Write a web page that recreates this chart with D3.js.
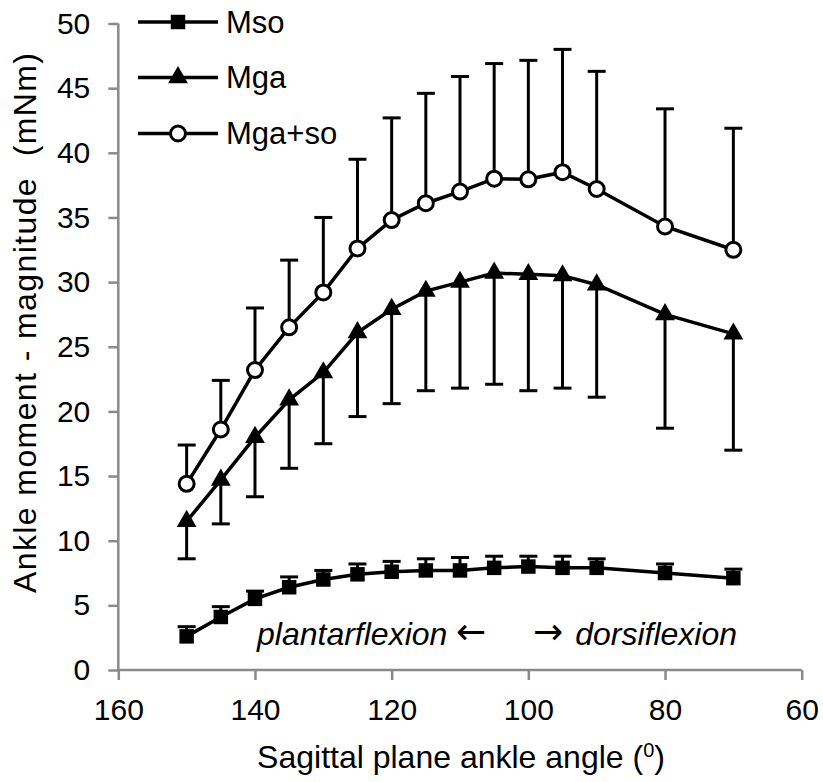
<!DOCTYPE html>
<html>
<head>
<meta charset="utf-8">
<script src="https://cdn.jsdelivr.net/npm/d3@7"></script>
<style>
  html, body { margin: 0; padding: 0; background: #fff; }
  text { font-family: "Liberation Sans", Arial, sans-serif; }
</style>
</head>
<body>
<svg id="chart" width="823" height="782"></svg>
<script>
// ---- data ----
const angles = [150, 145, 140, 135, 130, 125, 120, 115, 110, 105, 100, 95, 90, 80, 70];
const msoMean = [2.6, 4.1, 5.5, 6.4, 7.0, 7.4, 7.6, 7.7, 7.7, 7.9, 8.0, 7.9, 7.9, 7.5, 7.1];
const msoUpper = [3.35, 4.9, 6.1, 7.2, 7.7, 8.2, 8.4, 8.6, 8.7, 8.8, 8.8, 8.8, 8.6, 8.2, 7.8];
const mgaMean = [11.5, 14.7, 18.0, 20.9, 23.0, 26.1, 27.9, 29.3, 30.0, 30.7, 30.6, 30.5, 29.8, 27.5, 26.0];
const mgaLower = [8.6, 11.3, 13.4, 15.6, 17.5, 19.6, 20.6, 21.6, 21.8, 22.1, 21.6, 21.8, 21.1, 18.7, 17.0];
const sumMean = [14.4, 18.6, 23.2, 26.5, 29.2, 32.6, 34.8, 36.1, 37.0, 38.0, 37.95, 38.5, 37.2, 34.3, 32.5];
const sumUpper = [17.4, 22.4, 28.0, 31.7, 35.0, 39.5, 42.7, 44.6, 45.9, 46.9, 47.15, 48.0, 46.3, 43.4, 41.9];
const xTicks = [160, 140, 120, 100, 80, 60];
const yTicks = [0, 5, 10, 15, 20, 25, 30, 35, 40, 45, 50];
const seriesNames = ["Mso", "Mga", "Mga+so"];

const svg = d3.select("#chart");
const x = d3.scaleLinear().domain([160, 60]).range([118.3, 801.7]);
const y = d3.scaleLinear().domain([0, 50]).range([670, 23.5]);
const axisColor = "#8a8a8a";

// axes
const gx = svg.append("g").attr("transform", `translate(0,${y(0)})`)
  .call(d3.axisBottom(x).tickValues(xTicks).tickSize(10).tickPadding(19).tickFormat(d3.format("d")));
const gy = svg.append("g").attr("transform", `translate(${x(160)},0)`)
  .call(d3.axisLeft(y).tickValues(yTicks).tickSize(10).tickPadding(18).tickFormat(d3.format("d")));
[gx, gy].forEach(g => {
  g.select(".domain").attr("stroke", axisColor).attr("stroke-width", 2.5);
  g.selectAll(".tick line").attr("stroke", axisColor).attr("stroke-width", 2.5);
  g.selectAll(".tick text").attr("fill", "#000").style("font-size", "30px")
    .style("font-family", "'Liberation Sans', Arial, sans-serif");
});
gx.select(".domain").attr("d", `M${x(160)},0H${x(60)}`);
gy.select(".domain").attr("d", `M0,${y(0)}V${y(50)}`);

// axis titles
svg.append("text").attr("x", 461).attr("y", 768).attr("text-anchor", "middle")
  .style("font-size", "32px")
  .html('Sagittal plane ankle angle (<tspan dy="-11" font-size="20">0</tspan><tspan dy="11">)</tspan>');
svg.append("text").attr("transform", "translate(36,323) rotate(-90)")
  .attr("text-anchor", "middle").style("font-size", "32px").style("white-space", "pre")
  .attr("textLength", 540).attr("lengthAdjust", "spacing")
  .text("Ankle moment - magnitude  (mNm)");

// annotation
const ann = svg.append("g").style("font-size", "32px");
ann.append("text").attr("x", 257).attr("y", 645).style("font-style", "italic").text("plantarflexion");
ann.append("text").attr("x", 456).attr("y", 644).style("font-family", "'DejaVu Sans', sans-serif")
  .style("font-size", "36px").text("\u2190");
ann.append("text").attr("x", 533).attr("y", 644).style("font-family", "'DejaVu Sans', sans-serif")
  .style("font-size", "36px").text("\u2192");
ann.append("text").attr("x", 737).attr("y", 645).attr("text-anchor", "end").style("font-style", "italic")
  .text("dorsiflexion");

const line = d3.line();
const capW = 9;

function errorBars(means, ends) {
  const g = svg.append("g").attr("stroke", "#000").attr("stroke-width", 3);
  angles.forEach((a, i) => {
    g.append("line").attr("x1", x(a)).attr("x2", x(a)).attr("y1", y(means[i])).attr("y2", y(ends[i]));
    g.append("line").attr("x1", x(a) - capW).attr("x2", x(a) + capW).attr("y1", y(ends[i])).attr("y2", y(ends[i]));
  });
}
function seriesLine(means) {
  svg.append("path").attr("d", line(angles.map((a, i) => [x(a), y(means[i])])))
    .attr("fill", "none").attr("stroke", "#000").attr("stroke-width", 3.5);
}
const sq = d3.symbol().type(d3.symbolSquare).size(210);
const tri = d3.symbol().type(d3.symbolTriangle).size(170);

function drawMarker(g, kind, cx, cy) {
  if (kind === 0) {
    g.append("path").attr("d", sq()).attr("transform", `translate(${cx},${cy})`).attr("fill", "#000");
  } else if (kind === 1) {
    g.append("path").attr("d", tri()).attr("transform", `translate(${cx},${cy})`).attr("fill", "#000");
  } else {
    g.append("circle").attr("cx", cx).attr("cy", cy).attr("r", 7.5)
      .attr("fill", "#fff").attr("stroke", "#000").attr("stroke-width", 3);
  }
}

errorBars(msoMean, msoUpper);
seriesLine(msoMean);
errorBars(mgaMean, mgaLower);
seriesLine(mgaMean);
errorBars(sumMean, sumUpper);
seriesLine(sumMean);

const mg = svg.append("g");
[msoMean, mgaMean, sumMean].forEach((arr, k) => {
  angles.forEach((a, i) => drawMarker(mg, k, x(a), y(arr[i])));
});

// legend
const legY = [22, 77.5, 133.5];
seriesNames.forEach((name, k) => {
  const g = svg.append("g");
  g.append("line").attr("x1", 138).attr("x2", 218).attr("y1", legY[k]).attr("y2", legY[k])
    .attr("stroke", "#000").attr("stroke-width", 3.5);
  drawMarker(g, k, 178, legY[k]);
  g.append("text").attr("x", 226).attr("y", legY[k] + 10.5).style("font-size", "31px").text(name);
});
</script>
</body>
</html>
